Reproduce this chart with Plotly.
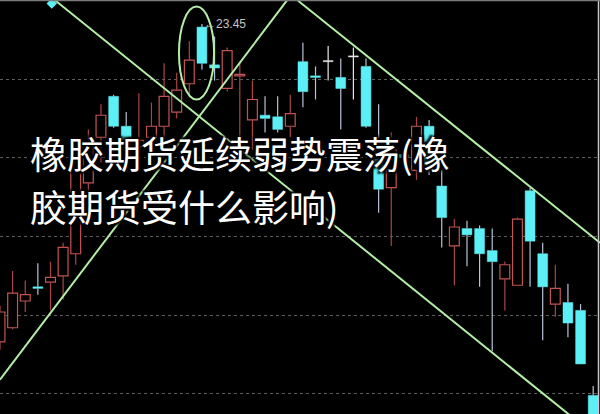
import plotly.graph_objects as go

# ---- data ----
idx = list(range(48))
opens = [21.43, 21.52, 21.69, 21.78, 21.81, 21.85, 21.99, 22.44, 22.73, 22.99,
         22.80, 22.67, 22.73, 22.80, 22.89, 23.07, 23.43, 23.19, 23.04, 23.12,
         22.84, 22.87, 22.86, 22.80, 23.21, 23.12, 23.21, 23.11, 23.24, 23.18,
         22.59, 22.41, 22.62, 22.52, 22.80, 22.42, 22.04, 22.15, 22.15, 22.01,
         21.83, 21.79, 22.39, 21.99, 21.67, 21.68, 21.63, 21.09]
highs = [21.66, 21.88, 21.82, 21.93, 21.94, 22.06, 22.62, 22.78, 22.94, 23.00,
         22.89, 23.01, 22.95, 23.20, 23.14, 23.34, 23.45, 23.37, 23.30, 23.21,
         23.09, 22.99, 22.99, 23.00, 23.33, 23.18, 23.31, 23.23, 23.30, 23.23,
         22.94, 22.76, 22.66, 22.86, 22.84, 22.52, 22.21, 22.20, 22.17, 22.15,
         21.94, 22.22, 22.41, 22.06, 21.92, 21.80, 21.67, 21.15]
lows = [21.38, 21.51, 21.62, 21.73, 21.63, 21.70, 21.92, 22.25, 22.57, 22.79,
        22.70, 22.59, 22.62, 22.65, 22.85, 22.99, 23.16, 23.09, 23.02, 22.73,
        22.65, 22.76, 22.76, 22.73, 22.92, 22.97, 23.09, 22.78, 22.97, 22.79,
        22.25, 22.04, 22.55, 22.46, 22.49, 22.03, 21.79, 21.91, 21.78, 21.37,
        21.63, 21.79, 21.78, 21.44, 21.59, 21.46, 21.29, 20.90]
closes = [21.62, 21.74, 21.73, 21.77, 21.84, 22.03, 22.57, 22.68, 22.87, 22.80,
          22.71, 22.71, 22.80, 22.99, 23.03, 23.22, 23.20, 23.17, 23.28, 23.13,
          22.97, 22.85, 22.78, 22.88, 23.02, 23.11, 23.21, 23.04, 23.24, 22.80,
          22.40, 22.65, 22.60, 22.80, 22.55, 22.22, 22.16, 22.11, 21.99, 21.94,
          21.92, 22.21, 22.07, 21.78, 21.77, 21.55, 21.29, 20.90]

grid_levels = [21.10, 21.60, 22.10, 22.60, 23.10]

# channel / trend lines (index, price)
line1_x = [4.36, 47.54]
line1_y = [23.60, 20.81]
line2_x = [0.0, 22.74]
line2_y = [21.19, 23.60]
line3_x = [23.57, 47.54]
line3_y = [23.60, 22.06]

# highlighted ellipse around the peak
ellipse_x = [14.18, 16.96]
ellipse_y = [22.97, 23.56]

peak_idx = 16
peak_label = "←23.45"
mark_x = [4.1]
mark_y = [23.58]

title_line1 = "橡胶期货延续弱势震荡(橡"
title_line2 = "胶期货受什么影响)"

# ---- styles ----
RED = "#c45454"
RED_WICK = "#a84646"
CYAN = "#5cf0f6"
CYAN_WICK = "#b8c2d8"
WHITE = "#e8e8e8"
GREEN = "#b4eea6"

fig = go.Figure()

groups = {"up": [], "down": [], "flat": []}
for i, o, h, l, c in zip(idx, opens, highs, lows, closes):
    k = "up" if c > o else ("down" if c < o else "flat")
    groups[k].append((i, o, h, l, c))

styles = {
    "up": dict(wick=RED_WICK, fill="#000000", edge=RED, ew=1.2),
    "down": dict(wick=CYAN_WICK, fill=CYAN, edge=CYAN, ew=0.5),
    "flat": dict(wick=WHITE, fill=WHITE, edge=WHITE, ew=0.5),
}

for k, items in groups.items():
    st = styles[k]
    wx, wy = [], []
    bx, bbase, bh = [], [], []
    for i, o, h, l, c in items:
        top, bot = max(o, c), min(o, c)
        wx += [i, i, None, i, i, None]
        wy += [h, top, None, bot, l, None]
        bx.append(i)
        bbase.append(bot)
        bh.append(max(top - bot, 0.007))
    fig.add_trace(go.Bar(x=bx, y=bh, base=bbase, width=0.78,
                         marker=dict(color=st["fill"], line=dict(color=st["edge"], width=st["ew"])),
                         hoverinfo="skip"))
    fig.add_trace(go.Scatter(x=wx, y=wy, mode="lines",
                             line=dict(color=st["wick"], width=1.2), hoverinfo="skip"))

for lx, ly in [(line1_x, line1_y), (line2_x, line2_y), (line3_x, line3_y)]:
    fig.add_trace(go.Scatter(x=lx, y=ly, mode="lines",
                             line=dict(color=GREEN, width=2), hoverinfo="skip"))

fig.add_trace(go.Scatter(x=mark_x, y=mark_y, mode="markers",
                         marker=dict(symbol="diamond", size=8, color=CYAN), hoverinfo="skip"))

fig.add_shape(type="circle", xref="x", yref="y",
              x0=ellipse_x[0], x1=ellipse_x[1], y0=ellipse_y[0], y1=ellipse_y[1],
              line=dict(color=GREEN, width=2))

# frame lines
fig.add_shape(type="line", xref="paper", yref="paper", x0=0.9975, x1=0.9975, y0=0, y1=1,
              line=dict(color="#c8c8c8", width=1.5))
fig.add_shape(type="line", xref="paper", yref="paper", x0=0, x1=1, y0=0.999, y1=0.999,
              line=dict(color="#7a7a7a", width=1.5))

fig.add_annotation(x=peak_idx, y=highs[peak_idx], xref="x", yref="y",
                   text=peak_label, showarrow=False, xanchor="left", yanchor="middle",
                   font=dict(family="Liberation Sans, Arial", size=12, color="#c4c4c4"))

shadow = "2px 2px 2px #000, -2px -2px 2px #000, 2px -2px 2px #000, -2px 2px 2px #000"
for txt, yp in [(title_line1, 0.630), (title_line2, 0.502)]:
    fig.add_annotation(x=28 / 600, y=yp, xref="paper", yref="paper", text=txt,
                       showarrow=False, xanchor="left", yanchor="middle",
                       font=dict(family="Noto Sans CJK SC", size=37, color="#ffffff",
                                 weight="normal", shadow=shadow))

fig.update_layout(
    width=600, height=414,
    margin=dict(l=0, r=0, t=0, b=0),
    paper_bgcolor="#000000", plot_bgcolor="#000000",
    showlegend=False, barmode="overlay",
    xaxis=dict(range=[0, 47.54], visible=False, fixedrange=True),
    yaxis=dict(range=[20.972, 23.602], tickvals=grid_levels, showticklabels=False,
               showgrid=True, gridcolor="#5e5e5e", griddash="dot", gridwidth=1,
               zeroline=False, showline=False, fixedrange=True),
)

fig.write_html("out.html", config={"displayModeBar": False},
               post_script="document.body.style.margin='0';document.body.style.background='#000';")
